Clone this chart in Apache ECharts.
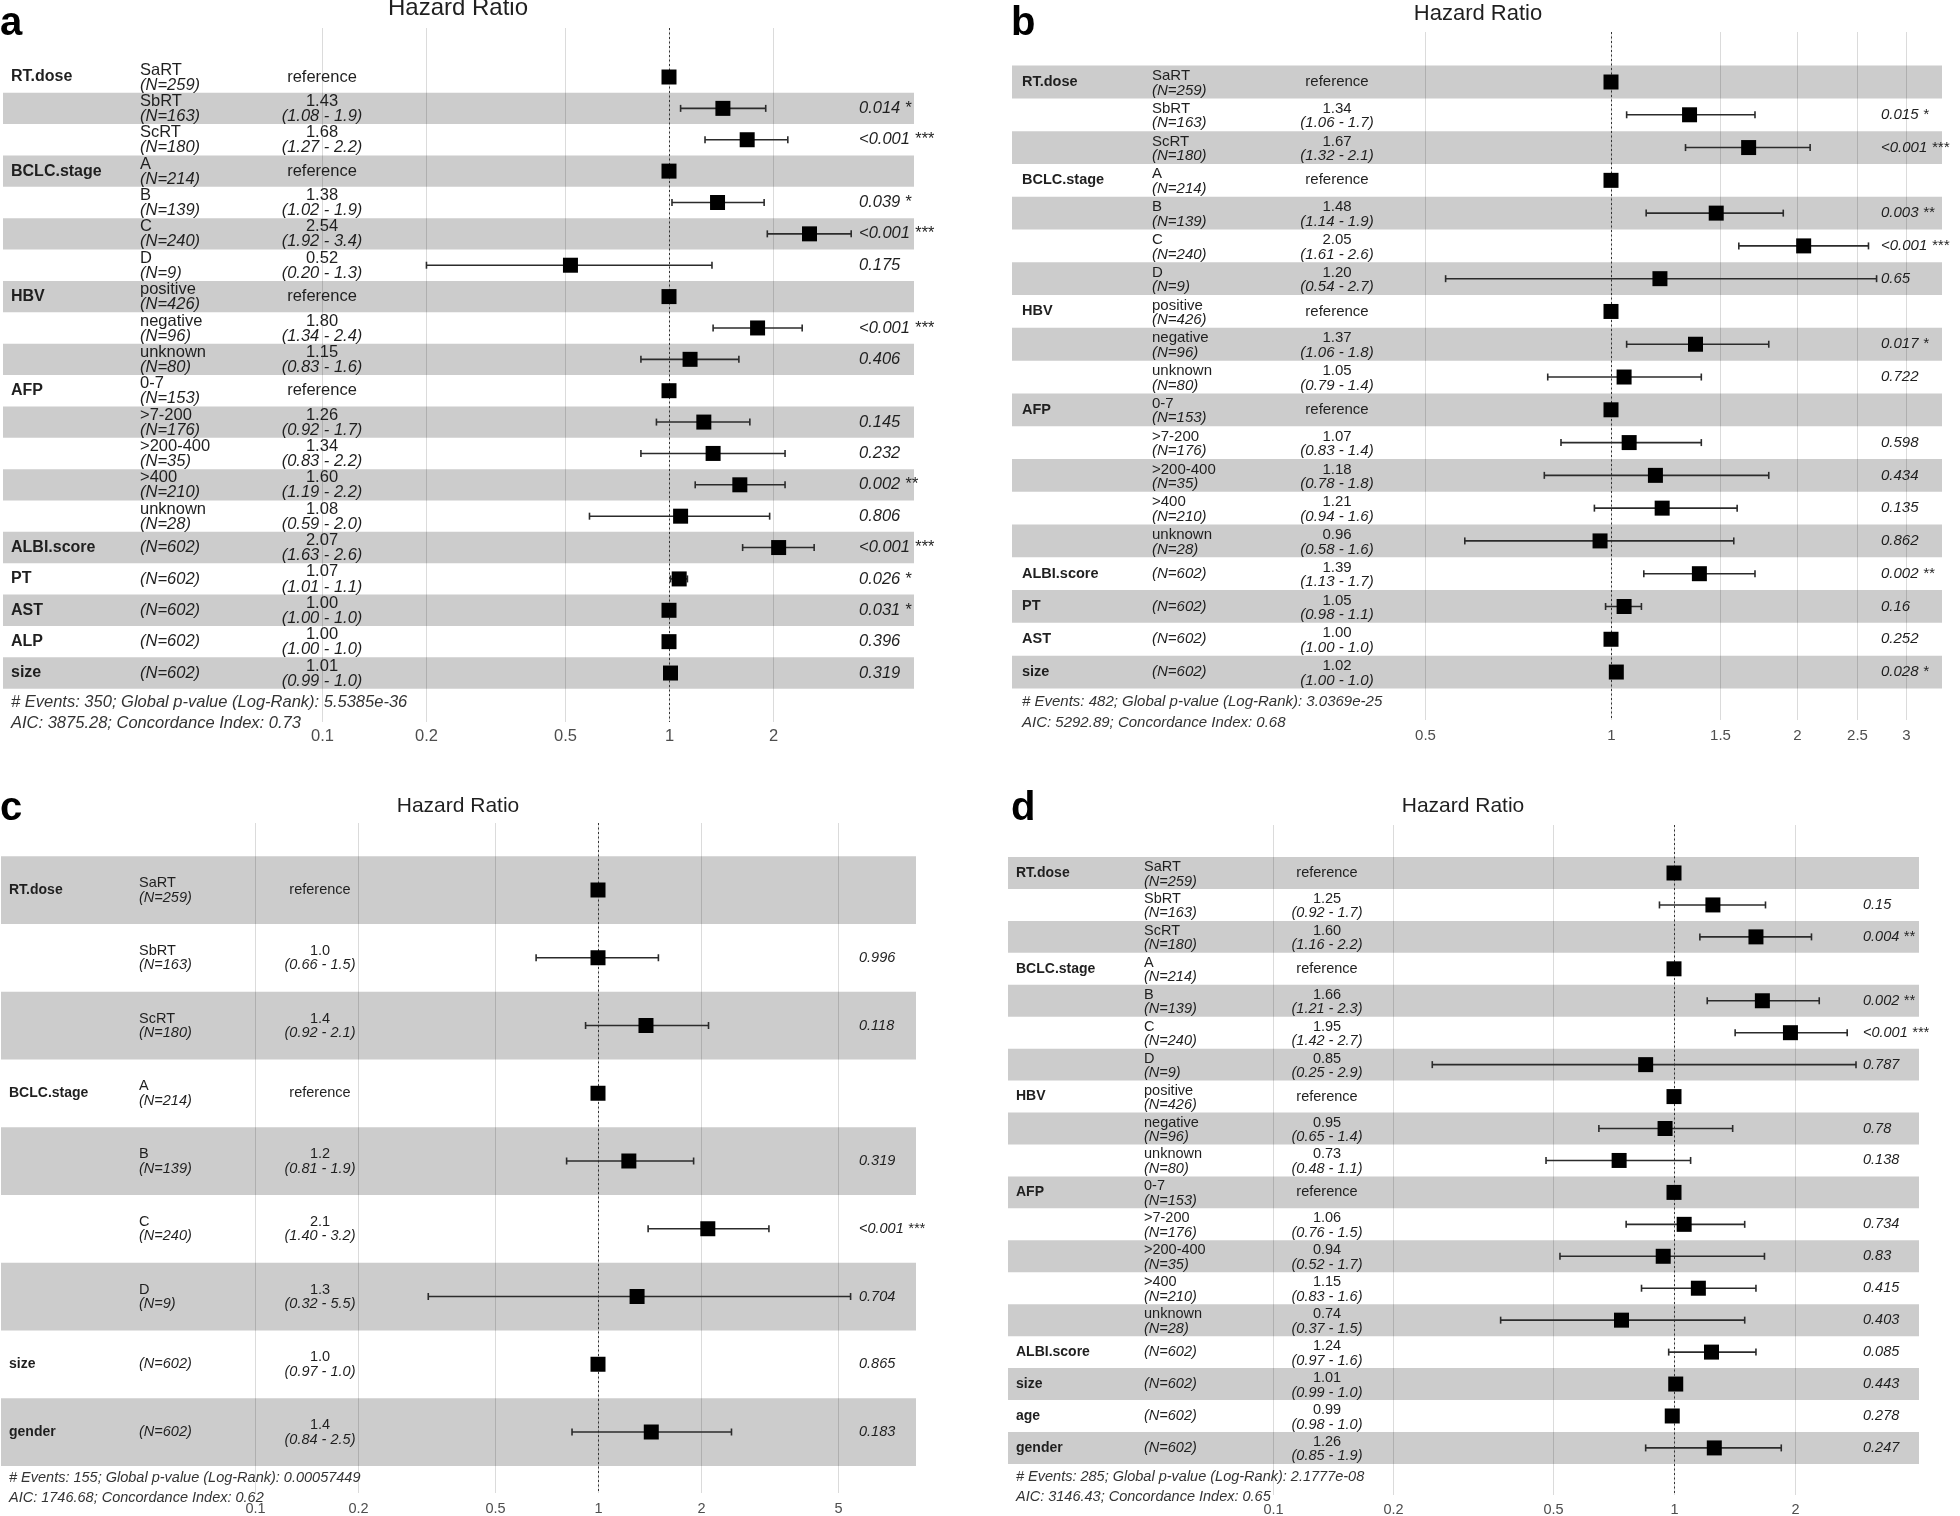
<!DOCTYPE html>
<html>
<head>
<meta charset="utf-8">
<script src="https://cdn.jsdelivr.net/npm/echarts/dist/echarts.min.js"></script>
<style>
html,body{margin:0;padding:0;background:#ffffff;}
#chart{width:1960px;height:1516px;}
</style>
</head>
<body>
<div id="chart"></div>
<script>
// ================= DATA =================
// ---- Panel a ----
const aVar   = ["RT.dose","","","BCLC.stage","","","","HBV","","","AFP","","","","","ALBI.score","PT","AST","ALP","size"];
const aLevel = ["SaRT","SbRT","ScRT","A","B","C","D","positive","negative","unknown","0-7",">7-200",">200-400",">400","unknown","","","","",""];
const aN     = [259,163,180,214,139,240,9,426,96,80,153,176,35,210,28,602,602,602,602,602];
const aHR    = [1,1.43,1.68,1,1.38,2.54,0.52,1,1.80,1.15,1,1.26,1.34,1.60,1.08,2.07,1.07,1.00,1.00,1.01];
const aLow   = [null,1.08,1.27,null,1.02,1.92,0.20,null,1.34,0.83,null,0.92,0.83,1.19,0.59,1.63,1.01,1.00,1.00,0.99];
const aHigh  = [null,1.90,2.20,null,1.88,3.35,1.33,null,2.42,1.59,null,1.71,2.16,2.16,1.95,2.62,1.13,1.00,1.00,1.02];
const aHRText = ["reference","1.43","1.68","reference","1.38","2.54","0.52","reference","1.80","1.15","reference","1.26","1.34","1.60","1.08","2.07","1.07","1.00","1.00","1.01"];
const aCIText = ["","(1.08 - 1.9)","(1.27 - 2.2)","","(1.02 - 1.9)","(1.92 - 3.4)","(0.20 - 1.3)","","(1.34 - 2.4)","(0.83 - 1.6)","","(0.92 - 1.7)","(0.83 - 2.2)","(1.19 - 2.2)","(0.59 - 2.0)","(1.63 - 2.6)","(1.01 - 1.1)","(1.00 - 1.0)","(1.00 - 1.0)","(0.99 - 1.0)"];
const aP     = ["","0.014 *","<0.001 ***","","0.039 *","<0.001 ***","0.175","","<0.001 ***","0.406","","0.145","0.232","0.002 **","0.806","<0.001 ***","0.026 *","0.031 *","0.396","0.319"];
const aTicks = [0.1,0.2,0.5,1,2];
const aNotes = ["# Events: 350; Global p-value (Log-Rank): 5.5385e-36","AIC: 3875.28; Concordance Index: 0.73"];

// ---- Panel b ----
const bVar   = ["RT.dose","","","BCLC.stage","","","","HBV","","","AFP","","","","","ALBI.score","PT","AST","size"];
const bLevel = ["SaRT","SbRT","ScRT","A","B","C","D","positive","negative","unknown","0-7",">7-200",">200-400",">400","unknown","","","",""];
const bN     = [259,163,180,214,139,240,9,426,96,80,153,176,35,210,28,602,602,602,602];
const bHR    = [1,1.34,1.67,1,1.48,2.05,1.20,1,1.37,1.05,1,1.07,1.18,1.21,0.96,1.39,1.05,1.00,1.02];
const bLow   = [null,1.06,1.32,null,1.14,1.61,0.54,null,1.06,0.79,null,0.83,0.78,0.94,0.58,1.13,0.98,1.00,1.00];
const bHigh  = [null,1.71,2.10,null,1.90,2.61,2.69,null,1.80,1.40,null,1.40,1.80,1.60,1.58,1.71,1.12,1.00,1.03];
const bHRText = ["reference","1.34","1.67","reference","1.48","2.05","1.20","reference","1.37","1.05","reference","1.07","1.18","1.21","0.96","1.39","1.05","1.00","1.02"];
const bCIText = ["","(1.06 - 1.7)","(1.32 - 2.1)","","(1.14 - 1.9)","(1.61 - 2.6)","(0.54 - 2.7)","","(1.06 - 1.8)","(0.79 - 1.4)","","(0.83 - 1.4)","(0.78 - 1.8)","(0.94 - 1.6)","(0.58 - 1.6)","(1.13 - 1.7)","(0.98 - 1.1)","(1.00 - 1.0)","(1.00 - 1.0)"];
const bP     = ["","0.015 *","<0.001 ***","","0.003 **","<0.001 ***","0.65","","0.017 *","0.722","","0.598","0.434","0.135","0.862","0.002 **","0.16","0.252","0.028 *"];
const bTicks = [0.5,1,1.5,2,2.5,3];
const bNotes = ["# Events: 482; Global p-value (Log-Rank): 3.0369e-25","AIC: 5292.89; Concordance Index: 0.68"];

// ---- Panel c ----
const cVar   = ["RT.dose","","","BCLC.stage","","","","size","gender"];
const cLevel = ["SaRT","SbRT","ScRT","A","B","C","D","",""];
const cN     = [259,163,180,214,139,240,9,602,602];
const cHR    = [1,1.0,1.38,1,1.23,2.09,1.30,1.0,1.43];
const cLow   = [null,0.66,0.92,null,0.81,1.40,0.32,0.97,0.84];
const cHigh  = [null,1.50,2.10,null,1.90,3.15,5.45,1.03,2.45];
const cHRText = ["reference","1.0","1.4","reference","1.2","2.1","1.3","1.0","1.4"];
const cCIText = ["","(0.66 - 1.5)","(0.92 - 2.1)","","(0.81 - 1.9)","(1.40 - 3.2)","(0.32 - 5.5)","(0.97 - 1.0)","(0.84 - 2.5)"];
const cP     = ["","0.996","0.118","","0.319","<0.001 ***","0.704","0.865","0.183"];
const cTicks = [0.1,0.2,0.5,1,2,5];
const cNotes = ["# Events: 155; Global p-value (Log-Rank): 0.00057449","AIC: 1746.68; Concordance Index: 0.62"];

// ---- Panel d ----
const dVar   = ["RT.dose","","","BCLC.stage","","","","HBV","","","AFP","","","","","ALBI.score","size","age","gender"];
const dLevel = ["SaRT","SbRT","ScRT","A","B","C","D","positive","negative","unknown","0-7",">7-200",">200-400",">400","unknown","","","",""];
const dN     = [259,163,180,214,139,240,9,426,96,80,153,176,35,210,28,602,602,602,602];
const dHR    = [1,1.25,1.60,1,1.66,1.95,0.85,1,0.95,0.73,1,1.06,0.94,1.15,0.74,1.24,1.01,0.99,1.26];
const dLow   = [null,0.92,1.16,null,1.21,1.42,0.25,null,0.65,0.48,null,0.76,0.52,0.83,0.37,0.97,0.99,0.98,0.85];
const dHigh  = [null,1.69,2.20,null,2.30,2.70,2.84,null,1.40,1.10,null,1.50,1.68,1.60,1.50,1.60,1.02,1.00,1.85];
const dHRText = ["reference","1.25","1.60","reference","1.66","1.95","0.85","reference","0.95","0.73","reference","1.06","0.94","1.15","0.74","1.24","1.01","0.99","1.26"];
const dCIText = ["","(0.92 - 1.7)","(1.16 - 2.2)","","(1.21 - 2.3)","(1.42 - 2.7)","(0.25 - 2.9)","","(0.65 - 1.4)","(0.48 - 1.1)","","(0.76 - 1.5)","(0.52 - 1.7)","(0.83 - 1.6)","(0.37 - 1.5)","(0.97 - 1.6)","(0.99 - 1.0)","(0.98 - 1.0)","(0.85 - 1.9)"];
const dP     = ["","0.15","0.004 **","","0.002 **","<0.001 ***","0.787","","0.78","0.138","","0.734","0.83","0.415","0.403","0.085","0.443","0.278","0.247"];
const dTicks = [0.1,0.2,0.5,1,2];
const dNotes = ["# Events: 285; Global p-value (Log-Rank): 2.1777e-08","AIC: 3146.43; Concordance Index: 0.65"];

// ================= LAYOUT (pixels) =================
const LAYOUT = {
  a: {left:3, right:914, top:28, bottom:722, px1:669, decade:347, row0:77, rowH:31.37,
      varX:11, levelX:140, estX:322, pX:859, fs:16.5, fsB:16, up:7, down:8,
      titleX:458, titleY:8, titleFs:24, letterX:0, letterY:24, tickY:736,
      footX:11, footY:[702,723], footFs:16.5},
  b: {left:1012, right:1942, top:32, bottom:720, px1:1611, decade:618, row0:82, rowH:32.78,
      varX:1022, levelX:1152, estX:1337, pX:1881, fs:15, fsB:14.5, up:6, down:8.5,
      titleX:1478, titleY:14, titleFs:22, letterX:1011, letterY:24, tickY:736,
      footX:1022, footY:[702,723], footFs:15},
  c: {left:1, right:916, top:823, bottom:1493, px1:598, decade:343, row0:890, rowH:67.75,
      varX:9, levelX:139, estX:320, pX:859, fs:14.5, fsB:14, up:7, down:7.5,
      titleX:458, titleY:806, titleFs:21, letterX:0, letterY:809, tickY:1509,
      footX:9, footY:[1478,1498], footFs:14.5},
  d: {left:1008, right:1919, top:825, bottom:1495, px1:1674, decade:401.5, row0:873, rowH:31.94,
      varX:1016, levelX:1144, estX:1327, pX:1863, fs:14.5, fsB:14, up:6, down:8.5,
      titleX:1463, titleY:806, titleFs:21, letterX:1011, letterY:809, tickY:1510,
      footX:1016, footY:[1477,1497], footFs:14.5}
};

const panels = [
  {key:'a', vars:aVar, levels:aLevel, n:aN, hr:aHR, low:aLow, high:aHigh, hrText:aHRText, ciText:aCIText, p:aP, ticks:aTicks, notes:aNotes},
  {key:'b', vars:bVar, levels:bLevel, n:bN, hr:bHR, low:bLow, high:bHigh, hrText:bHRText, ciText:bCIText, p:bP, ticks:bTicks, notes:bNotes},
  {key:'c', vars:cVar, levels:cLevel, n:cN, hr:cHR, low:cLow, high:cHigh, hrText:cHRText, ciText:cCIText, p:cP, ticks:cTicks, notes:cNotes},
  {key:'d', vars:dVar, levels:dLevel, n:dN, hr:dHR, low:dLow, high:dHigh, hrText:dHRText, ciText:dCIText, p:dP, ticks:dTicks, notes:dNotes}
];

const FONT = '"Liberation Sans", Arial, Helvetica, sans-serif';
const TEXT_COL = '#1f1f1f';
const BAND_COL = '#cccccc';

function txt(text, x, y, size, opts) {
  opts = opts || {};
  return {
    type: 'text',
    style: {
      text: text, x: x, y: y,
      fill: opts.fill || TEXT_COL,
      fontSize: size, fontFamily: FONT,
      fontWeight: opts.bold ? 'bold' : 'normal',
      fontStyle: opts.italic ? 'italic' : 'normal',
      align: opts.align || 'left', verticalAlign: 'middle',
      textAlign: opts.align || 'left', textVerticalAlign: 'middle'
    }
  };
}

const option = {animation:false, backgroundColor:'#ffffff', grid:[], xAxis:[], yAxis:[], series:[], graphic:[]};

panels.forEach(function (P, i) {
  const L = LAYOUT[P.key];
  const nRows = P.levels.length;
  option.grid.push({left:L.left, top:L.top, width:L.right - L.left, height:L.bottom - L.top, containLabel:false});
  option.xAxis.push({type:'log', logBase:10, gridIndex:i, show:false,
    min:Math.pow(10, (L.left - L.px1) / L.decade), max:Math.pow(10, (L.right - L.px1) / L.decade)});
  option.yAxis.push({type:'value', gridIndex:i, inverse:true, show:false,
    min:(L.top - L.row0) / L.rowH, max:(L.bottom - L.row0) / L.rowH});

  // shaded bands (alternating from the bottom row)
  option.series.push({
    type:'custom', xAxisIndex:i, yAxisIndex:i, silent:true, clip:false, z:1,
    data: P.levels.map(function (_, r) { return [1, r]; }),
    encode:{x:0, y:1},
    renderItem: function (params, api) {
      const r = api.value(1);
      if ((nRows - 1 - r) % 2 !== 0) return null;
      const cs = params.coordSys;
      const y0 = api.coord([1, r - 0.5])[1], y1 = api.coord([1, r + 0.5])[1];
      return {type:'rect', shape:{x:cs.x, y:Math.min(y0, y1), width:cs.width, height:Math.abs(y1 - y0)},
              style:{fill:BAND_COL}};
    }
  });

  // grid lines and tick labels
  option.series.push({
    type:'custom', xAxisIndex:i, yAxisIndex:i, silent:true, clip:false, z:2,
    data: P.ticks.map(function (t) { return [t, 0]; }),
    encode:{x:0, y:1},
    renderItem: function (params, api) {
      const cs = params.coordSys;
      const t = P.ticks[params.dataIndex];
      const x = Math.round(api.coord([t, 0])[0]) + 0.5;
      return {type:'group', children:[
        {type:'line', shape:{x1:x, y1:cs.y, x2:x, y2:cs.y + cs.height},
         style:{stroke:'rgba(0,0,0,0.14)', lineWidth:1}},
        txt(String(t), x, L.tickY, L.fs, {align:'center', fill:'#4d4d4d'})
      ]};
    }
  });

  // dotted reference line at HR = 1
  option.series.push({
    type:'custom', xAxisIndex:i, yAxisIndex:i, silent:true, clip:false, z:3,
    data: [[1, 0]],
    encode:{x:0, y:1},
    renderItem: function (params, api) {
      const cs = params.coordSys;
      const x = Math.round(api.coord([api.value(0), 0])[0]) + 0.5;
      return {type:'line', shape:{x1:x, y1:cs.y, x2:x, y2:cs.y + cs.height},
              style:{stroke:'#333333', lineWidth:1, lineDash:[2, 2.5]}};
    }
  });

  // table texts
  option.series.push({
    type:'custom', xAxisIndex:i, yAxisIndex:i, silent:true, clip:false, z:4,
    data: P.levels.map(function (_, r) { return [1, r]; }),
    encode:{x:0, y:1},
    renderItem: function (params, api) {
      const r = params.dataIndex;
      const y = api.coord([1, r])[1];
      const ch = [];
      if (P.vars[r]) ch.push(txt(P.vars[r], L.varX, y, L.fsB, {bold:true}));
      const nTxt = '(N=' + P.n[r] + ')';
      if (P.levels[r]) {
        ch.push(txt(P.levels[r], L.levelX, y - L.up, L.fs));
        ch.push(txt(nTxt, L.levelX, y + L.down, L.fs, {italic:true}));
      } else {
        ch.push(txt(nTxt, L.levelX, y, L.fs, {italic:true}));
      }
      if (P.hrText[r] === 'reference') {
        ch.push(txt('reference', L.estX, y, L.fs, {align:'center'}));
      } else {
        ch.push(txt(P.hrText[r], L.estX, y - L.up, L.fs, {align:'center'}));
        ch.push(txt(P.ciText[r], L.estX, y + L.down, L.fs, {align:'center', italic:true}));
      }
      if (P.p[r]) ch.push(txt(P.p[r], L.pX, y, L.fs, {italic:true}));
      return {type:'group', children:ch};
    }
  });

  // error bars and squares
  option.series.push({
    type:'custom', xAxisIndex:i, yAxisIndex:i, silent:true, clip:false, z:5,
    data: P.hr.map(function (h, r) { return [h, r, P.low[r], P.high[r]]; }),
    encode:{x:0, y:1},
    renderItem: function (params, api) {
      const r = params.dataIndex;
      const h = P.hr[r], lo = P.low[r], hi = P.high[r];
      const c = api.coord([h, r]);
      const ch = [];
      const sq = 15;
      if (lo != null && hi != null) {
        const xl = api.coord([lo, r])[0], xh = api.coord([hi, r])[0];
        const st = {stroke:'#2b2b2b', lineWidth:1.6};
        ch.push({type:'line', shape:{x1:xl, y1:c[1], x2:xh, y2:c[1]}, style:st});
        ch.push({type:'line', shape:{x1:xl, y1:c[1] - 3.5, x2:xl, y2:c[1] + 3.5}, style:st});
        ch.push({type:'line', shape:{x1:xh, y1:c[1] - 3.5, x2:xh, y2:c[1] + 3.5}, style:st});
      }
      ch.push({type:'rect', shape:{x:c[0] - sq / 2, y:c[1] - sq / 2, width:sq, height:sq}, style:{fill:'#000000'}});
      return {type:'group', children:ch};
    }
  });

  // title, panel letter, footnotes
  option.graphic.push({type:'text', z:10, silent:true, style:{text:'Hazard Ratio', x:L.titleX, y:L.titleY,
    fill:TEXT_COL, fontSize:L.titleFs, fontFamily:FONT, align:'center', verticalAlign:'middle',
    textAlign:'center', textVerticalAlign:'middle'}});
  option.graphic.push({type:'text', z:10, silent:true, style:{text:P.key, x:L.letterX, y:L.letterY,
    fill:'#000000', fontSize:40, fontWeight:'bold', fontFamily:FONT, align:'left', verticalAlign:'middle',
    textAlign:'left', textVerticalAlign:'middle'}});
  P.notes.forEach(function (note, k) {
    option.graphic.push({type:'text', z:10, silent:true, style:{text:note, x:L.footX, y:L.footY[k],
      fill:'#333333', fontSize:L.footFs, fontStyle:'italic', fontFamily:FONT, align:'left', verticalAlign:'middle',
      textAlign:'left', textVerticalAlign:'middle'}});
  });
});

const chart = echarts.init(document.getElementById('chart'), null, {renderer:'canvas', width:1960, height:1516});
chart.setOption(option);
</script>
</body>
</html>
